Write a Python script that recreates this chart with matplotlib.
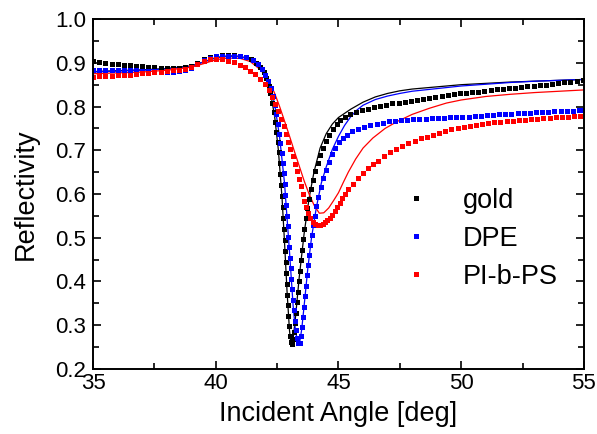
import numpy as np
import matplotlib
matplotlib.use("Agg")
import matplotlib.pyplot as plt
from matplotlib.ticker import MultipleLocator

plt.rcParams['font.family'] = ['Liberation Sans', 'DejaVu Sans']

# measured data (squares)
gold_ang = [35.0, 35.25, 35.5, 35.75, 36.0, 36.25, 36.5, 36.75, 37.0, 37.25, 37.5, 37.75,
            38.0, 38.25, 38.5, 38.75, 39.0, 39.25, 39.5, 39.75, 40.0, 40.25, 40.5, 40.75,
            41.0, 41.25, 41.45, 41.65, 41.8, 41.95, 42.05, 42.15, 42.22, 42.3, 42.36, 42.42,
            42.47, 42.52, 42.56, 42.6, 42.63, 42.66, 42.69, 42.72, 42.75, 42.77, 42.8, 42.82,
            42.85, 42.87, 42.89, 42.92, 42.94, 42.96, 42.99, 43.02, 43.05, 43.1, 43.16, 43.2,
            43.24, 43.27, 43.31, 43.35, 43.39, 43.43, 43.47, 43.51, 43.56, 43.61, 43.67, 43.73,
            43.8, 43.88, 43.96, 44.05, 44.15, 44.26, 44.38, 44.5, 44.63, 44.77, 44.92, 45.08,
            45.25, 45.45, 45.7, 45.95, 46.2, 46.45, 46.7, 46.95, 47.2, 47.45, 47.7, 47.95,
            48.2, 48.45, 48.7, 48.95, 49.2, 49.45, 49.7, 49.95, 50.2, 50.45, 50.7, 50.95,
            51.2, 51.45, 51.7, 51.95, 52.2, 52.45, 52.7, 52.95, 53.2, 53.45, 53.7, 53.95,
            54.2, 54.45, 54.7, 54.95]
gold_r = [0.905, 0.902, 0.900, 0.898, 0.897, 0.896, 0.894, 0.893, 0.892, 0.891, 0.890, 0.889,
          0.889, 0.889, 0.889, 0.890, 0.893, 0.900, 0.909, 0.914, 0.916, 0.917, 0.917, 0.917,
          0.916, 0.914, 0.909, 0.900, 0.890, 0.878, 0.865, 0.848, 0.830, 0.808, 0.787, 0.765,
          0.742, 0.718, 0.695, 0.670, 0.645, 0.620, 0.595, 0.570, 0.545, 0.520, 0.495, 0.470,
          0.445, 0.420, 0.395, 0.370, 0.345, 0.320, 0.297, 0.276, 0.262, 0.258, 0.268, 0.285,
          0.305, 0.328, 0.352, 0.376, 0.400, 0.424, 0.448, 0.472, 0.496, 0.520, 0.544, 0.567,
          0.589, 0.611, 0.632, 0.652, 0.671, 0.689, 0.706, 0.721, 0.736, 0.749, 0.760, 0.769,
          0.776, 0.782, 0.787, 0.791, 0.795, 0.798, 0.801, 0.804, 0.807, 0.809, 0.811, 0.813,
          0.815, 0.817, 0.819, 0.821, 0.823, 0.826, 0.828, 0.830, 0.831, 0.833, 0.834, 0.836,
          0.837, 0.839, 0.840, 0.842, 0.843, 0.845, 0.846, 0.847, 0.849, 0.850, 0.852, 0.853,
          0.855, 0.856, 0.858, 0.860]

dpe_ang = [35.0, 35.25, 35.5, 35.75, 36.0, 36.25, 36.5, 36.75, 37.0, 37.25, 37.5, 37.75,
           38.0, 38.25, 38.5, 38.75, 39.0, 39.25, 39.5, 39.75, 40.0, 40.25, 40.5, 40.75,
           41.0, 41.25, 41.5, 41.7, 41.88, 42.02, 42.14, 42.25, 42.33, 42.4, 42.47, 42.53,
           42.58, 42.63, 42.68, 42.72, 42.76, 42.8, 42.84, 42.87, 42.9, 42.93, 42.96, 42.99,
           43.02, 43.05, 43.08, 43.11, 43.14, 43.17, 43.21, 43.25, 43.3, 43.36, 43.42, 43.47,
           43.51, 43.55, 43.59, 43.63, 43.67, 43.71, 43.75, 43.8, 43.85, 43.9, 43.96, 44.03,
           44.1, 44.18, 44.27, 44.37, 44.48, 44.6, 44.73, 44.87, 45.02, 45.18, 45.35, 45.55,
           45.8, 46.05, 46.3, 46.55, 46.8, 47.05, 47.3, 47.55, 47.8, 48.05, 48.3, 48.55,
           48.8, 49.05, 49.3, 49.55, 49.8, 50.05, 50.3, 50.55, 50.8, 51.05, 51.3, 51.55,
           51.8, 52.05, 52.3, 52.55, 52.8, 53.05, 53.3, 53.55, 53.8, 54.05, 54.3, 54.55,
           54.8, 55.0]
dpe_r = [0.884, 0.884, 0.884, 0.884, 0.884, 0.884, 0.883, 0.883, 0.882, 0.882, 0.881, 0.880,
         0.880, 0.880, 0.881, 0.883, 0.888, 0.897, 0.906, 0.912, 0.915, 0.916, 0.916, 0.916,
         0.915, 0.913, 0.906, 0.897, 0.885, 0.872, 0.858, 0.842, 0.823, 0.803, 0.782, 0.760,
         0.738, 0.716, 0.693, 0.670, 0.647, 0.623, 0.598, 0.574, 0.550, 0.526, 0.502, 0.478,
         0.454, 0.430, 0.406, 0.382, 0.358, 0.334, 0.310, 0.288, 0.270, 0.259, 0.260, 0.275,
         0.295, 0.318, 0.342, 0.366, 0.390, 0.414, 0.437, 0.460, 0.483, 0.506, 0.528, 0.550,
         0.572, 0.594, 0.615, 0.636, 0.656, 0.674, 0.691, 0.706, 0.718, 0.728, 0.736, 0.743,
         0.749, 0.753, 0.757, 0.760, 0.763, 0.766, 0.768, 0.769, 0.770, 0.771, 0.772, 0.772,
         0.773, 0.773, 0.774, 0.775, 0.776, 0.777, 0.777, 0.778, 0.779, 0.780, 0.781, 0.782,
         0.783, 0.784, 0.785, 0.786, 0.786, 0.787, 0.788, 0.788, 0.789, 0.789, 0.790, 0.790,
         0.791, 0.792]

pibps_ang = [35.0, 35.25, 35.5, 35.75, 36.0, 36.25, 36.5, 36.75, 37.0, 37.25, 37.5, 37.75,
             38.0, 38.25, 38.5, 38.75, 39.0, 39.25, 39.5, 39.75, 40.0, 40.25, 40.5, 40.75,
             41.0, 41.2, 41.4, 41.6, 41.8, 42.0, 42.15, 42.3, 42.42, 42.54, 42.65, 42.76,
             42.86, 42.95, 43.04, 43.13, 43.22, 43.3, 43.38, 43.46, 43.54, 43.61, 43.68, 43.76,
             43.85, 43.95, 44.05, 44.15, 44.25, 44.35, 44.45, 44.55, 44.65, 44.75, 44.85, 44.95,
             45.05, 45.15, 45.25, 45.4, 45.6, 45.8, 46.0, 46.2, 46.4, 46.6, 46.85, 47.1,
             47.35, 47.6, 47.85, 48.1, 48.35, 48.6, 48.85, 49.1, 49.35, 49.6, 49.85, 50.1,
             50.35, 50.6, 50.85, 51.1, 51.35, 51.6, 51.85, 52.1, 52.35, 52.6, 52.85, 53.1,
             53.35, 53.6, 53.85, 54.1, 54.35, 54.6, 54.85]
pibps_r = [0.868, 0.869, 0.870, 0.871, 0.872, 0.873, 0.873, 0.874, 0.876, 0.877, 0.878, 0.880,
           0.881, 0.883, 0.884, 0.887, 0.891, 0.897, 0.904, 0.908, 0.909, 0.908, 0.905, 0.901,
           0.896, 0.890, 0.882, 0.874, 0.864, 0.852, 0.838, 0.822, 0.806, 0.789, 0.772, 0.755,
           0.738, 0.720, 0.703, 0.686, 0.669, 0.652, 0.635, 0.618, 0.601, 0.585, 0.570, 0.556,
           0.545, 0.537, 0.532, 0.530, 0.530, 0.532, 0.535, 0.540, 0.546, 0.553, 0.561, 0.570,
           0.580, 0.590, 0.600, 0.611, 0.624, 0.637, 0.649, 0.660, 0.668, 0.676, 0.686, 0.695,
           0.703, 0.710, 0.716, 0.722, 0.727, 0.731, 0.735, 0.739, 0.744, 0.748, 0.751, 0.754,
           0.756, 0.758, 0.760, 0.762, 0.764, 0.765, 0.767, 0.768, 0.769, 0.770, 0.771, 0.772,
           0.773, 0.774, 0.775, 0.776, 0.777, 0.778, 0.779]

# fitted curves (thin lines)
gold_fit_ang = [35, 36, 37, 38, 39, 39.5, 40, 40.5, 41, 41.5, 41.8, 42.0, 42.2, 42.4, 42.55,
                42.7, 42.8, 42.9, 43.0, 43.05, 43.1, 43.15, 43.25, 43.4, 43.6, 43.8, 44.0,
                44.25, 44.5, 44.75, 45.0, 45.5, 46.0, 46.5, 47.0, 47.5, 48, 49, 50, 51, 52,
                53, 54, 55]
gold_fit_r = [0.880, 0.882, 0.884, 0.887, 0.893, 0.902, 0.912, 0.916, 0.915, 0.906, 0.893,
              0.876, 0.842, 0.776, 0.700, 0.590, 0.490, 0.380, 0.290, 0.262, 0.258, 0.268,
              0.320, 0.410, 0.510, 0.590, 0.650, 0.705, 0.738, 0.760, 0.775, 0.794, 0.810,
              0.822, 0.830, 0.836, 0.840, 0.845, 0.850, 0.853, 0.856, 0.858, 0.860, 0.862]

dpe_fit_ang = [35, 36, 37, 38, 39, 39.5, 40, 40.5, 41, 41.5, 41.8, 42.0, 42.2, 42.4, 42.6,
               42.8, 43.0, 43.15, 43.25, 43.35, 43.42, 43.5, 43.6, 43.75, 43.9, 44.1, 44.3,
               44.5, 44.75, 45.0, 45.25, 45.5, 45.75, 46.0, 46.5, 47.0, 47.5, 48.0, 49, 50,
               51, 52, 53, 54, 55]
dpe_fit_r = [0.879, 0.881, 0.883, 0.886, 0.892, 0.902, 0.911, 0.915, 0.914, 0.906, 0.895,
             0.880, 0.852, 0.805, 0.730, 0.625, 0.470, 0.345, 0.285, 0.260, 0.262, 0.290,
             0.345, 0.430, 0.500, 0.570, 0.625, 0.662, 0.702, 0.732, 0.757, 0.777, 0.792,
             0.803, 0.816, 0.824, 0.830, 0.835, 0.841, 0.847, 0.851, 0.855, 0.858, 0.860, 0.862]

pibps_fit_ang = [35, 36, 37, 38, 39, 39.5, 40, 40.5, 41, 41.4, 41.8, 42.0, 42.2, 42.4, 42.6,
                 42.8, 43.0, 43.2, 43.4, 43.6, 43.8, 44.0, 44.1, 44.22, 44.4, 44.6, 44.8, 45.0,
                 45.2, 45.4, 45.7, 46.0, 46.4, 46.9, 47.4, 48.0, 48.7, 49.4, 50, 51, 52, 53,
                 54, 55]
pibps_fit_r = [0.875, 0.877, 0.879, 0.883, 0.890, 0.898, 0.907, 0.911, 0.910, 0.903, 0.885,
               0.872, 0.855, 0.830, 0.800, 0.767, 0.733, 0.698, 0.664, 0.630, 0.600, 0.575,
               0.566, 0.556, 0.557, 0.568, 0.585, 0.603, 0.627, 0.650, 0.680, 0.705, 0.728,
               0.750, 0.766, 0.782, 0.796, 0.808, 0.815, 0.823, 0.828, 0.832, 0.835, 0.838]

fig = plt.figure(figsize=(5.97, 4.34), dpi=100)
ax = fig.add_axes([0.156, 0.150, 0.822, 0.806])

ax.plot(gold_fit_ang, gold_fit_r, '-', color='black', lw=0.9)
ax.plot(dpe_fit_ang, dpe_fit_r, '-', color='blue', lw=0.9)
ax.plot(pibps_fit_ang, pibps_fit_r, '-', color='red', lw=0.9)

ax.plot(gold_ang, gold_r, 's', color='black', ms=3.6, mew=0, label='gold')
ax.plot(dpe_ang, dpe_r, 's', color='blue', ms=3.6, mew=0, label='DPE')
ax.plot(pibps_ang, pibps_r, 's', color='red', ms=3.6, mew=0, label='PI-b-PS')

ax.set_xlim(35, 55)
ax.set_ylim(0.2, 1.0)
ax.xaxis.set_major_locator(MultipleLocator(5))
ax.xaxis.set_minor_locator(MultipleLocator(2.5))
ax.yaxis.set_major_locator(MultipleLocator(0.1))
ax.yaxis.set_minor_locator(MultipleLocator(0.05))
ax.yaxis.set_major_formatter(plt.FormatStrFormatter('%.1f'))
ax.tick_params(which='both', direction='in', top=True, right=True, labelsize=16, width=1.2)
ax.tick_params(axis='x', pad=3)
ax.tick_params(axis='y', pad=5)
ax.tick_params(which='major', length=6)
ax.tick_params(which='minor', length=4)
for s in ax.spines.values():
    s.set_linewidth(1.4)

ax.set_xlabel('Incident Angle [deg]', fontsize=19.5, labelpad=5)
ax.set_ylabel('Reflectivity', fontsize=19.5, labelpad=12)

ax.legend(loc='upper left', bbox_to_anchor=(0.58, 0.588), frameon=False, fontsize=19.5,
          handlelength=1.0, handletextpad=1.25, labelspacing=0.45, markerscale=1.0)

fig.savefig('out.png', dpi=100)
